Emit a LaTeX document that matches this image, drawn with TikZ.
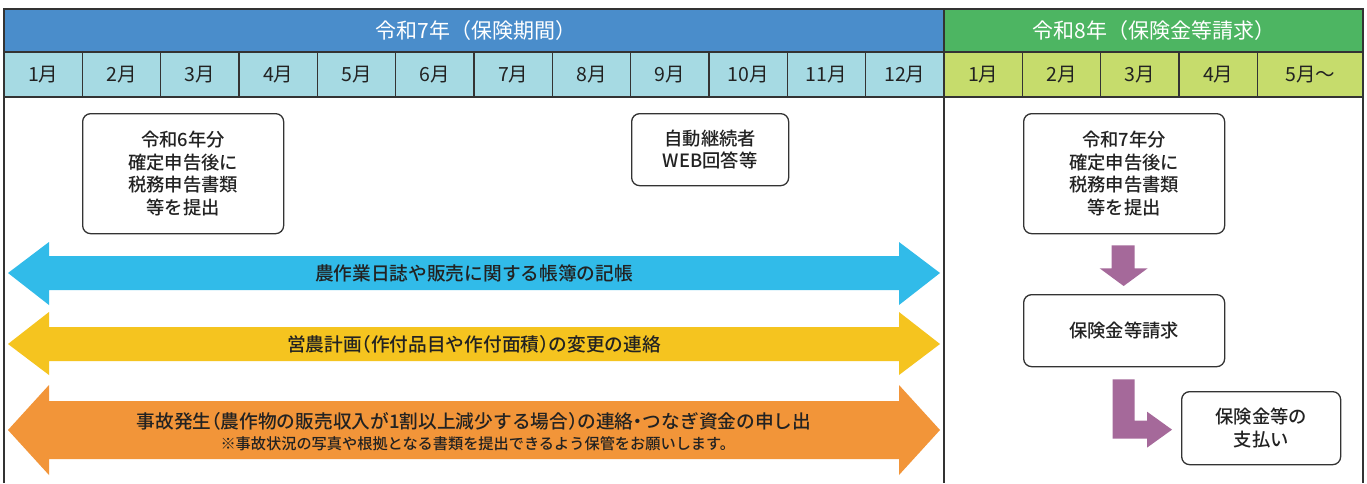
\documentclass[tikz,border=0pt]{standalone}
\usepackage{fontspec}
\usetikzlibrary{calc}
\setmainfont{Noto Sans CJK JP}
\IfFontExistsTF{Noto Sans CJK JP Medium}{\newfontfamily\jpm[RawFeature=+halt]{Noto Sans CJK JP Medium}}{\newfontfamily\jpm[FakeBold=0.4,RawFeature=+halt]{Noto Sans CJK JP}}
\definecolor{hdrblue}{HTML}{4A8DCB}
\definecolor{hdrgreen}{HTML}{4DB562}
\definecolor{monblue}{HTML}{A6DAE3}
\definecolor{mongreen}{HTML}{C6DC6C}
\definecolor{arrblue}{HTML}{31BBE9}
\definecolor{arryellow}{HTML}{F5C41F}
\definecolor{arrorange}{HTML}{F29539}
\definecolor{arrpurple}{HTML}{A5699A}
\definecolor{ink}{HTML}{222222}
\definecolor{frame}{HTML}{333333}
\begin{document}
\begin{tikzpicture}[x=1pt,y=-1pt,
  hdrtext/.style={text=white,font=\fontsize{21}{23}\selectfont,inner sep=0pt},
  montext/.style={text=ink,font=\fontsize{19.5}{22}\selectfont,inner sep=0pt},
  stepbox/.style={draw=frame,line width=1.3pt,rounded corners=8pt,fill=white,inner sep=0pt,anchor=north west},
  boxtext/.style={text=ink,font=\jpm\fontsize{18.3}{22.7}\selectfont,align=center,inner sep=0pt},
  arrtext/.style={text=ink,font=\jpm\fontsize{18.7}{20}\selectfont,inner sep=0pt},
  gridline/.style={draw=frame,line width=1.5pt}]
\useasboundingbox (0,0) rectangle (1367,483);
\fill[white] (0,0) rectangle (1367,483);
% header
\fill[hdrblue] (4,9) rectangle (944,52);
\fill[hdrgreen] (944,9) rectangle (1363,52);
\fill[monblue] (4,52) rectangle (944,97);
\fill[mongreen] (944,52) rectangle (1363,97);
\node[hdrtext] (h7) at (476,31) {令和7年（保険期間）};
\node[hdrtext] (h8) at (1154,31) {令和8年（保険金等請求）};
% months
\foreach \i in {1,...,12}{
  \node[montext] (m\i) at ({4+(\i-0.5)*78.333},75) {\i 月};
}
\foreach \i in {1,...,4}{
  \node[montext] (n\i) at ({944+(\i-0.5)*78.333},75) {\i 月};
}
\node[montext] (n5) at (1310.5,75) {5月～};
% grid lines
\draw[gridline] (4,483) -- (4,9) -- (1363,9) -- (1363,483);
\draw[gridline] (4,52) -- (1363,52);
\draw[gridline] (4,97) -- (1363,97);
\draw[gridline] (944,9) -- (944,483);
\foreach \i in {1,...,11}{
  \draw[gridline] ({4+\i*78.333},52) -- ({4+\i*78.333},97);
}
\foreach \i in {1,...,4}{
  \draw[gridline] ({944+\i*78.333},52) -- ({944+\i*78.333},97);
}
% boxes
\node[stepbox,minimum width=201pt,minimum height=120pt] (b1) at (82,113) {};
\node[boxtext] (t1) at (b1.center) {令和6年分\\確定申告後に\\税務申告書類\\等を提出};
\node[stepbox,minimum width=157pt,minimum height=72pt] (b2) at (631,113) {};
\node[boxtext] (t2) at (b2.center) {自動継続者\\WEB回答等};
\node[stepbox,minimum width=201pt,minimum height=120pt] (b3) at (1023,113) {};
\node[boxtext] (t3) at (b3.center) {令和7年分\\確定申告後に\\税務申告書類\\等を提出};
\node[stepbox,minimum width=201pt,minimum height=72pt] (b4) at (1023,294) {};
\node[boxtext] (t4) at (b4.center) {保険金等請求};
\node[stepbox,minimum width=159pt,minimum height=73pt] (b5) at (1181,391) {};
\node[boxtext] (t5) at (b5.center) {保険金等の\\支払い};
% big double arrows
\fill[arrblue] (8,273) -- (49,242) -- (49,256) -- (899,256) -- (899,242) -- (940,273) -- (899,305) -- (899,290) -- (49,290) -- (49,305) -- cycle;
\node[arrtext] (a1) at (474,273) {農作業日誌や販売に関する帳簿の記帳};
\fill[arryellow] (8,344) -- (49,312) -- (49,327) -- (899,327) -- (899,312) -- (940,344) -- (899,375) -- (899,361) -- (49,361) -- (49,375) -- cycle;
\node[arrtext] (a2) at (474,344) {営農計画（作付品目や作付面積）の変更の連絡};
\fill[arrorange] (8,430) -- (49,385) -- (49,401) -- (899,401) -- (899,385) -- (940,430) -- (899,475) -- (899,459) -- (49,459) -- (49,475) -- cycle;
\node[arrtext] (a3) at (474,421) {事故発生（農作物の販売収入が1割以上減少する場合）の連絡・つなぎ資金の申し出};
\node[text=ink,font=\jpm\fontsize{15.2}{16}\selectfont,inner sep=0pt] (a3n) at (474,444) {※事故状況の写真や根拠となる書類を提出できるよう保管をお願いします。};
% purple arrows
\fill[arrpurple] ($(b3.south)+(-12.5,11)$) -- ($(b3.south)+(10.5,11)$) -- ($(b3.south)+(10.5,34)$) -- ($(b3.south)+(23.5,34)$) -- ($(b4.north)+(-0.5,-8)$) -- ($(b3.south)+(-24.5,34)$) -- ($(b3.south)+(-12.5,34)$) -- cycle;
\fill[arrpurple] ($(b4.south)+(-11.5,12)$) -- ($(b4.south)+(10.5,12)$) -- ($(b4.south |- b5.west)+(10.5,-7.5)$) -- ($(b5.west)+(-34,-7.5)$) -- ($(b5.west)+(-34,-16.5)$) -- ($(b5.west)+(-9,1.5)$) -- ($(b5.west)+(-34,19.5)$) -- ($(b5.west)+(-34,10.5)$) -- ($(b4.south |- b5.west)+(-11.5,10.5)$) -- cycle;
\end{tikzpicture}
\end{document}
